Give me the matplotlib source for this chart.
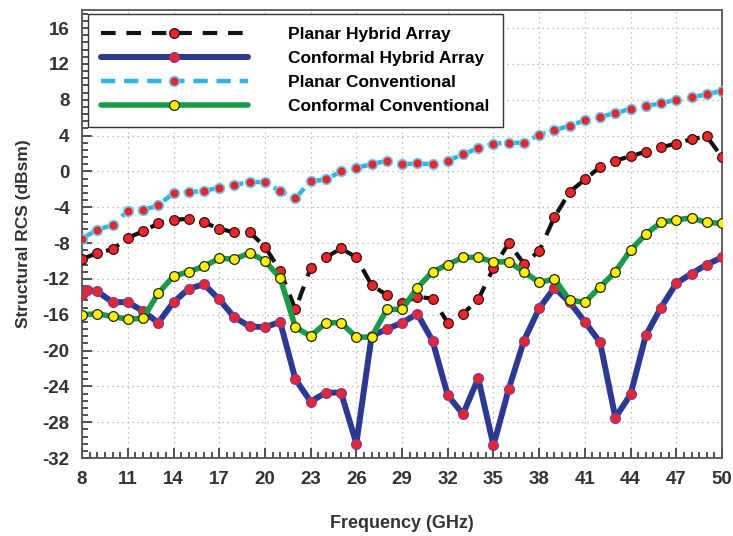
"""
Structural RCS vs frequency for planar / conformal hybrid and conventional arrays.
"""

import matplotlib

matplotlib.use("Agg")
import matplotlib.pyplot as plt  # noqa: E402
from matplotlib.ticker import MultipleLocator  # noqa: E402

plt.rcParams["font.family"] = ["Liberation Sans", "DejaVu Sans"]
plt.rcParams["font.weight"] = "bold"
plt.rcParams["axes.unicode_minus"] = False

freq = list(range(8, 51))

planar_hybrid = [
    -9.8, -9.1, -8.7, -7.4, -6.7, -5.8, -5.4, -5.3, -5.7, -6.4, -6.8, -6.8, -8.4,
    -11.1, -15.4, -10.8, -9.6, -8.6, -9.6, -12.7, -13.8, -14.7, -14.0, -14.2,
    -16.9, -15.9, -14.3, -10.8, -8.0, -10.3, -8.9, -5.1, -2.3, -0.9, 0.5, 1.2,
    1.7, 2.2, 2.7, 3.1, 3.6, 3.9, 1.6,
]

# conformal hybrid has one extra sample just after 8 GHz
freq_conf_hybrid = [8, 8.3] + list(range(9, 51))
conformal_hybrid = [
    -13.8, -13.2, -13.4, -14.6, -14.6, -15.6, -16.9, -14.6, -13.1, -12.6, -14.3,
    -16.3, -17.3, -17.4, -16.8, -23.2, -25.7, -24.7, -24.7, -30.4, -18.4, -17.6,
    -16.9, -15.9, -18.9, -25.0, -27.1, -23.1, -30.6, -24.3, -18.9, -15.3, -13.0,
    -14.6, -16.8, -19.1, -27.5, -24.9, -18.3, -15.2, -12.5, -11.4, -10.4, -9.6,
]

planar_conventional = [
    -7.5, -6.5, -6.0, -4.4, -4.3, -3.8, -2.4, -2.3, -2.2, -1.8, -1.5, -1.2, -1.2,
    -2.2, -3.0, -1.1, -0.9, 0.0, 0.4, 0.8, 1.2, 0.8, 0.9, 0.8, 1.2, 1.9, 2.6,
    3.1, 3.2, 3.2, 4.1, 4.6, 5.1, 5.7, 6.1, 6.5, 7.0, 7.3, 7.6, 8.0, 8.3, 8.6,
    9.0,
]

conformal_conventional = [
    -16.0, -15.9, -16.2, -16.5, -16.4, -13.6, -11.7, -11.2, -10.6, -9.7, -9.8,
    -9.1, -10.0, -11.9, -17.4, -18.4, -16.9, -16.9, -18.5, -18.5, -15.4, -15.4,
    -13.0, -11.2, -10.4, -9.6, -9.6, -10.1, -10.1, -11.2, -12.4, -12.0, -14.4,
    -14.6, -12.9, -11.2, -8.8, -7.0, -5.7, -5.4, -5.2, -5.7, -5.8,
]

x_ticks = list(range(8, 51, 3))
y_ticks = list(range(-32, 17, 4))

RED = "#e8262c"
fig = plt.figure(figsize=(7.33, 5.36), dpi=100)
ax = fig.add_axes([0.112, 0.1455, 0.873, 0.8355])

ax.plot(freq_conf_hybrid, conformal_hybrid, color="#2b3990", lw=4.3,
        solid_joinstyle="round", solid_capstyle="round",
        marker="o", ms=7, mfc=RED, mec="#8a3b8f", mew=1.0,
        label="Conformal Hybrid Array", zorder=3)
ax.plot(freq, planar_conventional, color="#2fb4e9", lw=3.2, dashes=(3.2, 2.0),
        marker="o", ms=7, mfc=RED, mec="#6ec8ee", mew=1.2,
        label="Planar Conventional", zorder=3)
ax.plot(freq, planar_hybrid, color="#111111", lw=3.0, dashes=(3.5, 2.6),
        marker="o", ms=7, mfc=RED, mec="#3a1010", mew=0.9,
        label="Planar Hybrid Array", zorder=4)
ax.plot(freq, conformal_conventional, color="#1a9b48", lw=4.0,
        solid_joinstyle="round", solid_capstyle="round",
        marker="o", ms=7, mfc="#fff200", mec="#222222", mew=0.9,
        label="Conformal Conventional", zorder=5)

ax.set_xlim(8, 50)
ax.set_ylim(-32, 18)
ax.set_xticks(x_ticks)
ax.set_yticks(y_ticks)
ax.xaxis.set_minor_locator(MultipleLocator(0.5))
ax.yaxis.set_minor_locator(MultipleLocator(0.8))
ax.tick_params(which="both", direction="in", top=False, right=False,
               colors="#333333", labelsize=13.5, width=1.2)
ax.tick_params(which="major", length=7, pad=9)
ax.tick_params(which="minor", length=4)
for lbl in ax.get_xticklabels() + ax.get_yticklabels():
    lbl.set_fontweight("bold")
for spine in ax.spines.values():
    spine.set_color("#555555")
    spine.set_linewidth(1.3)

ax.grid(which="major", color="#aaaaaa", linestyle=(0, (1, 3)), linewidth=0.9)

ax.set_xlabel("Frequency (GHz)", fontsize=13, fontweight="bold",
              color="#333333", labelpad=20)
ax.set_ylabel("Structural RCS (dBsm)", fontsize=12.5, fontweight="bold",
              color="#333333", labelpad=8)

handles, labels = ax.get_legend_handles_labels()
order = [2, 0, 1, 3]
leg = ax.legend([handles[i] for i in order], [labels[i] for i in order],
                loc="upper left", bbox_to_anchor=(0.006, 0.996),
                borderaxespad=0.1,
                numpoints=1, handlelength=8.5, handletextpad=2.3,
                borderpad=0.75, labelspacing=0.52, fancybox=False,
                framealpha=1, edgecolor="#333333",
                prop={"size": 12.5, "weight": "bold"})
leg.get_frame().set_linewidth(1.0)
leg.set_zorder(10)

fig.savefig("out.png", dpi=100)
plt.close(fig)
